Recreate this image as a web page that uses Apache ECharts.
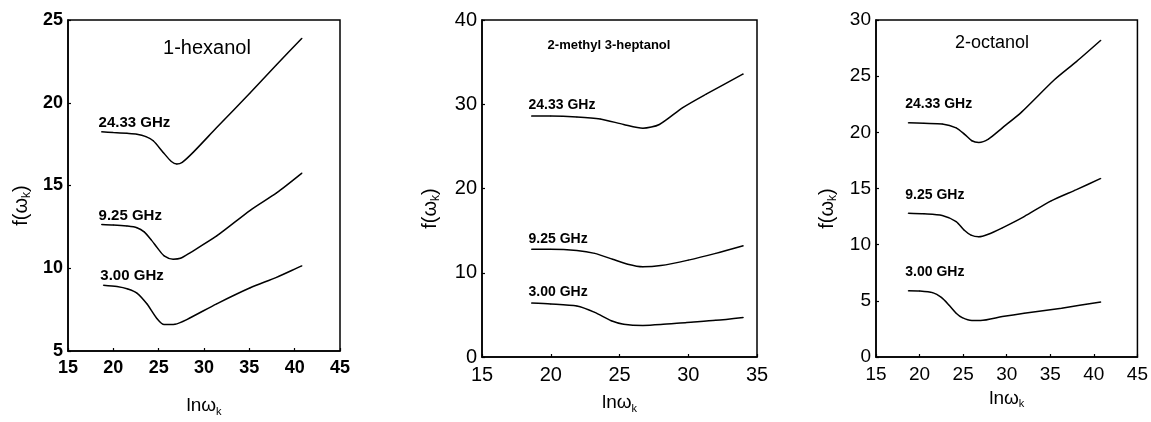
<!DOCTYPE html>
<html>
<head>
<meta charset="utf-8">
<title>f(ωk) vs lnωk</title>
<script src="https://cdn.jsdelivr.net/npm/echarts@6/dist/echarts.min.js"></script>
<style>
  html, body { margin: 0; padding: 0; background: #fff; }
  #chart { width: 1151px; height: 422px; }
</style>
</head>
<body>
<div id="chart"></div>
<script>
// Panel titles (alcohols) and frequency labels
const panelNames = ['1-hexanol', '2-methyl 3-heptanol', '2-octanol'];
const freqLabels = ['24.33 GHz', '9.25 GHz', '3.00 GHz'];

// Axis ranges and tick steps per panel
const xRanges = [[15, 45], [15, 35], [15, 45]];
const yRanges = [[5, 25], [0, 40], [0, 30]];
const xSteps = [5, 5, 5];
const ySteps = [5, 10, 5];

// 1-hexanol: [lnωk, f(ωk)]
const hexanol24 = [[18.7, 18.25], [20, 18.2], [21.5, 18.15], [22.6, 18.1], [23.6, 17.95], [24.4, 17.7], [25.5, 17.0], [26.4, 16.45], [27.0, 16.3], [27.6, 16.4], [28.8, 17.0], [31.4, 18.5], [35.1, 20.6], [38, 22.3], [40.8, 23.9]];
const hexanol9 = [[18.7, 12.65], [20, 12.62], [21.5, 12.55], [22.6, 12.45], [23.4, 12.2], [24.2, 11.7], [24.9, 11.2], [25.6, 10.75], [26.6, 10.55], [27.4, 10.6], [28.5, 10.95], [31.4, 11.95], [35.1, 13.5], [38, 14.55], [40.8, 15.75]];
const hexanol3 = [[18.9, 8.98], [20.4, 8.9], [21.6, 8.75], [22.6, 8.5], [23.7, 7.85], [24.8, 6.97], [25.6, 6.6], [26.8, 6.62], [28.1, 6.9], [31.4, 7.85], [35.1, 8.82], [38, 9.45], [40.8, 10.15]];

// 2-methyl 3-heptanol
const heptanol24 = [[18.6, 28.6], [20, 28.6], [21.9, 28.5], [23.6, 28.25], [25.3, 27.6], [26.7, 27.15], [27.9, 27.6], [29.6, 29.6], [31.3, 31.2], [34, 33.6]];
const heptanol9 = [[18.6, 12.8], [20, 12.8], [21.9, 12.65], [23.2, 12.3], [24.5, 11.6], [25.6, 11.0], [26.7, 10.7], [28, 10.85], [30, 11.5], [32, 12.3], [34, 13.2]];
const heptanol3 = [[18.6, 6.4], [20, 6.3], [21.9, 6.05], [23.2, 5.3], [24.4, 4.3], [25.3, 3.9], [26.7, 3.75], [28, 3.85], [29.9, 4.1], [32, 4.35], [34, 4.7]];

// 2-octanol
const octanol24 = [[18.7, 20.85], [20.5, 20.8], [22.6, 20.75], [24.2, 20.4], [25.2, 19.8], [26.0, 19.25], [26.8, 19.1], [27.9, 19.4], [29.5, 20.4], [31.7, 21.8], [35.5, 24.7], [38, 26.3], [40.8, 28.2]];
const octanol9 = [[18.7, 12.8], [20.5, 12.75], [22.6, 12.6], [24.2, 12.05], [25.1, 11.3], [25.9, 10.85], [26.8, 10.7], [27.8, 10.9], [29.5, 11.5], [32, 12.5], [35.1, 13.9], [38, 14.9], [40.8, 15.9]];
const octanol3 = [[18.7, 5.9], [20, 5.88], [21.5, 5.73], [22.5, 5.3], [23.4, 4.6], [24.2, 3.9], [24.9, 3.5], [26, 3.25], [27, 3.25], [29.5, 3.6], [32, 3.9], [36.3, 4.35], [40.8, 4.9]];

const panelSeries = [
  [hexanol24, hexanol9, hexanol3],
  [heptanol24, heptanol9, heptanol3],
  [octanol24, octanol9, octanol3]
];

// Layout of the three plot boxes (pixels)
const grids = [
  { left: 68, top: 20, width: 272, height: 342 },
  { left: 482, top: 20, width: 275, height: 337 },
  { left: 876, top: 20, width: 264, height: 337 }
];
const titlePos = [[207, 48], [609, 45], [992, 43]];
const titleSize = [20, 13, 18];
const titleWeight = ['normal', 'bold', 'normal'];
const tickFont = [18, 20, 19];
const tickWeight = ['bold', 'normal', 'normal'];
const labelFont = [15, 14, 14];
const labelLift = [1, 3, 11];
const yNameGap = [35, 40, 37];
const xNameGap = [44, 35, 24];

const FONT = '"Liberation Sans", Arial, Helvetica, sans-serif';
const black = '#000';

const option = {
  animation: false,
  backgroundColor: '#fff',
  grid: grids.map(g => Object.assign({
    show: true, borderColor: black, borderWidth: 1.5, backgroundColor: 'transparent'
  }, g)),
  xAxis: grids.map((g, i) => ({
    type: 'value', gridIndex: i,
    min: xRanges[i][0], max: xRanges[i][1], interval: xSteps[i],
    name: 'lnω{k|k}', nameLocation: 'middle', nameGap: xNameGap[i],
    nameTextStyle: { fontFamily: FONT, fontSize: 19, color: black,
      rich: { k: { fontFamily: FONT, fontSize: 11, color: black, padding: [11, 0, 0, 0] } } },
    axisLine: { show: true, onZero: false, lineStyle: { color: black, width: 1.5 } },
    axisTick: { show: true, inside: true, length: 3, lineStyle: { color: black, width: 1.2 } },
    axisLabel: { fontFamily: FONT, fontSize: tickFont[i], fontWeight: tickWeight[i], color: black, margin: 8 },
    splitLine: { show: false }
  })),
  yAxis: grids.map((g, i) => ({
    type: 'value', gridIndex: i,
    min: yRanges[i][0], max: yRanges[i][1], interval: ySteps[i],
    name: 'f(ω{k|k})', nameLocation: 'middle', nameRotate: 90, nameGap: yNameGap[i],
    nameTextStyle: { fontFamily: FONT, fontSize: 20, color: black, padding: [0, 40, 0, 0],
      rich: { k: { fontFamily: FONT, fontSize: 12, color: black, padding: [11, 0, 0, 0] } } },
    axisLine: { show: true, onZero: false, lineStyle: { color: black, width: 1.5 } },
    axisTick: { show: true, inside: true, length: 3, lineStyle: { color: black, width: 1.2 } },
    axisLabel: { fontFamily: FONT, fontSize: tickFont[i], fontWeight: tickWeight[i], color: black, margin: 5 },
    splitLine: { show: false }
  })),
  graphic: panelNames.map((name, i) => ({
    type: 'text', x: titlePos[i][0], y: titlePos[i][1], silent: true,
    style: { text: name, fill: black, fontFamily: FONT, fontSize: titleSize[i],
      fontWeight: titleWeight[i], align: 'center', verticalAlign: 'middle' }
  })),
  series: []
};

panelSeries.forEach((curves, i) => {
  curves.forEach((pts, j) => {
    option.series.push({
      type: 'line', xAxisIndex: i, yAxisIndex: i,
      smooth: 0.25,
      symbol: 'circle', symbolSize: 1, showSymbol: true,
      itemStyle: { color: black },
      lineStyle: { color: black, width: 1.5 },
      emphasis: { disabled: true },
      label: { show: false },
      data: pts.map((p, k) => k === 0 ? {
        value: p,
        label: {
          show: true, formatter: freqLabels[j], position: 'top', align: 'left',
          distance: labelLift[i], offset: [-3, 0],
          fontFamily: FONT, fontSize: labelFont[i], fontWeight: 'bold', color: black
        }
      } : p)
    });
  });
});

const chart = echarts.init(document.getElementById('chart'), null, { renderer: 'canvas' });
chart.setOption(option);
</script>
</body>
</html>
